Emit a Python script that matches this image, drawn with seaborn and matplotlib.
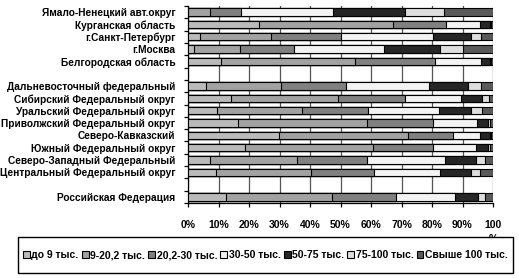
import numpy as np
import pandas as pd
import seaborn as sns
import matplotlib.pyplot as plt
from matplotlib.patches import Rectangle
from matplotlib.ticker import FixedLocator, FuncFormatter

categories = [
    "Ямало-Ненецкий авт.округ",
    "Курганская область",
    "г.Санкт-Петербург",
    "г.Москва",
    "Белгородская область",
    " ",
    "Дальневосточный федеральный",
    "Сибирский Федеральный округ",
    "Уральский Федеральный округ",
    "Приволжский Федеральный округ",
    "Северо-Кавказский",
    "Южный Федеральный округ",
    "Северо-Западный Федеральный",
    "Центральный Федеральный округ",
    "  ",
    "Российская Федерация",
]
series = ["до 9 тыс.", "9-20,2 тыс.", "20,2-30 тыс.", "30-50 тыс.",
          "50-75 тыс.", "75-100 тыс.", "Свыше 100 тыс."]

# values in percent, one list per series, aligned with `regions`
regions = [
    "Ямало-Ненецкий авт.округ", "Курганская область", "г.Санкт-Петербург",
    "г.Москва", "Белгородская область", "Дальневосточный федеральный",
    "Сибирский Федеральный округ", "Уральский Федеральный округ",
    "Приволжский Федеральный округ", "Северо-Кавказский",
    "Южный Федеральный округ", "Северо-Западный Федеральный",
    "Центральный Федеральный округ", "Российская Федерация",
]
upto_9 =      [0.0, 23.3, 3.8, 2.0, 10.7, 5.9, 14.0, 9.5, 16.4, 29.8, 18.6, 7.1, 9.1, 12.3]
s9_20 =       [7.1, 43.9, 23.3, 15.0, 44.2, 24.5, 35.2, 27.9, 42.3, 42.3, 42.1, 28.7, 31.1, 34.9]
s20_30 =      [10.2, 17.5, 23.1, 17.7, 26.2, 21.3, 21.8, 21.6, 21.6, 14.8, 19.6, 22.9, 20.9, 20.9]
s30_50 =      [30.2, 11.1, 30.1, 29.6, 14.9, 27.3, 18.6, 23.3, 14.6, 8.9, 14.2, 25.6, 21.4, 19.4]
s50_75 =      [23.5, 3.3, 12.4, 18.3, 2.9, 12.8, 6.9, 10.6, 3.5, 3.1, 3.9, 10.0, 10.2, 7.6]
s75_100 =     [12.8, 0.3, 3.5, 7.7, 0.4, 4.4, 2.2, 3.6, 0.5, 0.5, 0.5, 3.1, 3.1, 2.4]
over_100 =    [16.2, 0.6, 3.8, 9.8, 0.7, 3.8, 1.3, 3.5, 1.1, 0.6, 1.1, 2.6, 4.2, 2.5]

colors = ["#bababa", "#a2a2a2", "#808080", "#f3f3f3", "#262626", "#dedede", "#5a5a5a"]

data = pd.DataFrame({
    "region": regions,
    series[0]: upto_9, series[1]: s9_20, series[2]: s20_30, series[3]: s30_50,
    series[4]: s50_75, series[5]: s75_100, series[6]: over_100,
})
cum = data[series].cumsum(axis=1)

plt.rcParams["font.family"] = ["Liberation Sans", "DejaVu Sans"]
W, H = 519, 278
fig = plt.figure(figsize=(W / 100, H / 100), dpi=100)
ax = fig.add_axes([188 / W, 1 - 203 / H, (493 - 188) / W, (203 - 6) / H])

for i in range(len(series) - 1, -1, -1):
    d = pd.DataFrame({"region": data["region"], "val": cum[series[i]]})
    sns.barplot(data=d, y="region", x="val", order=categories, color=colors[i],
                orient="h", width=0.6, edgecolor="black", linewidth=0.8,
                saturation=1, ax=ax, errorbar=None, zorder=3)

ax.set_xlim(0, 100)
ax.set_ylim(len(categories) - 0.5, -0.5)
ax.set_xlabel("")
ax.set_ylabel("")

ax.xaxis.set_major_locator(FixedLocator(np.arange(0, 101, 10)))
ax.xaxis.set_major_formatter(FuncFormatter(lambda v, p: "100\n%" if v >= 100 else f"{int(v)}%"))
ax.grid(axis="x", color="#555555", linewidth=0.9, zorder=0)
ax.grid(axis="y", visible=False)
ax.set_axisbelow(True)

for s in ["top", "right"]:
    ax.spines[s].set_visible(False)
for s in ["left", "bottom"]:
    ax.spines[s].set_color("black")
    ax.spines[s].set_linewidth(0.9)

ax.tick_params(axis="x", direction="out", length=3, width=0.9, color="black",
               pad=9, labelsize=7.5)
for t in ax.get_xticklabels():
    t.set_fontweight("bold")
    t.set_verticalalignment("top")
    t.set_linespacing(1.5)

ax.yaxis.set_minor_locator(FixedLocator(np.arange(-0.5, len(categories), 1.0)))
ax.tick_params(axis="y", which="major", length=0, pad=9, labelsize=7.3)
ax.tick_params(axis="y", which="minor", direction="out", length=3, width=0.9, color="black")
for t in ax.get_yticklabels():
    t.set_fontweight("bold")

# legend box
box = Rectangle((18 / W, 1 - 273 / H), (513 - 18) / W, (273 - 237) / H,
                transform=fig.transFigure, facecolor="white", edgecolor="black",
                linewidth=1.0, zorder=4)
fig.add_artist(box)

handles = [Rectangle((0, 0), 1, 1, facecolor=c, edgecolor="black", linewidth=0.8)
           for c in colors]
leg = fig.legend(handles, series, ncol=7, loc="center",
                 bbox_to_anchor=(265.5 / W, 1 - 255 / H),
                 frameon=False, handlelength=0.65, handleheight=0.65,
                 handletextpad=0.15, columnspacing=0.3, borderpad=0.1,
                 prop={"size": 7.5, "weight": "bold"})
leg.set_zorder(5)

fig.savefig("out.png", dpi=100, facecolor="white")
